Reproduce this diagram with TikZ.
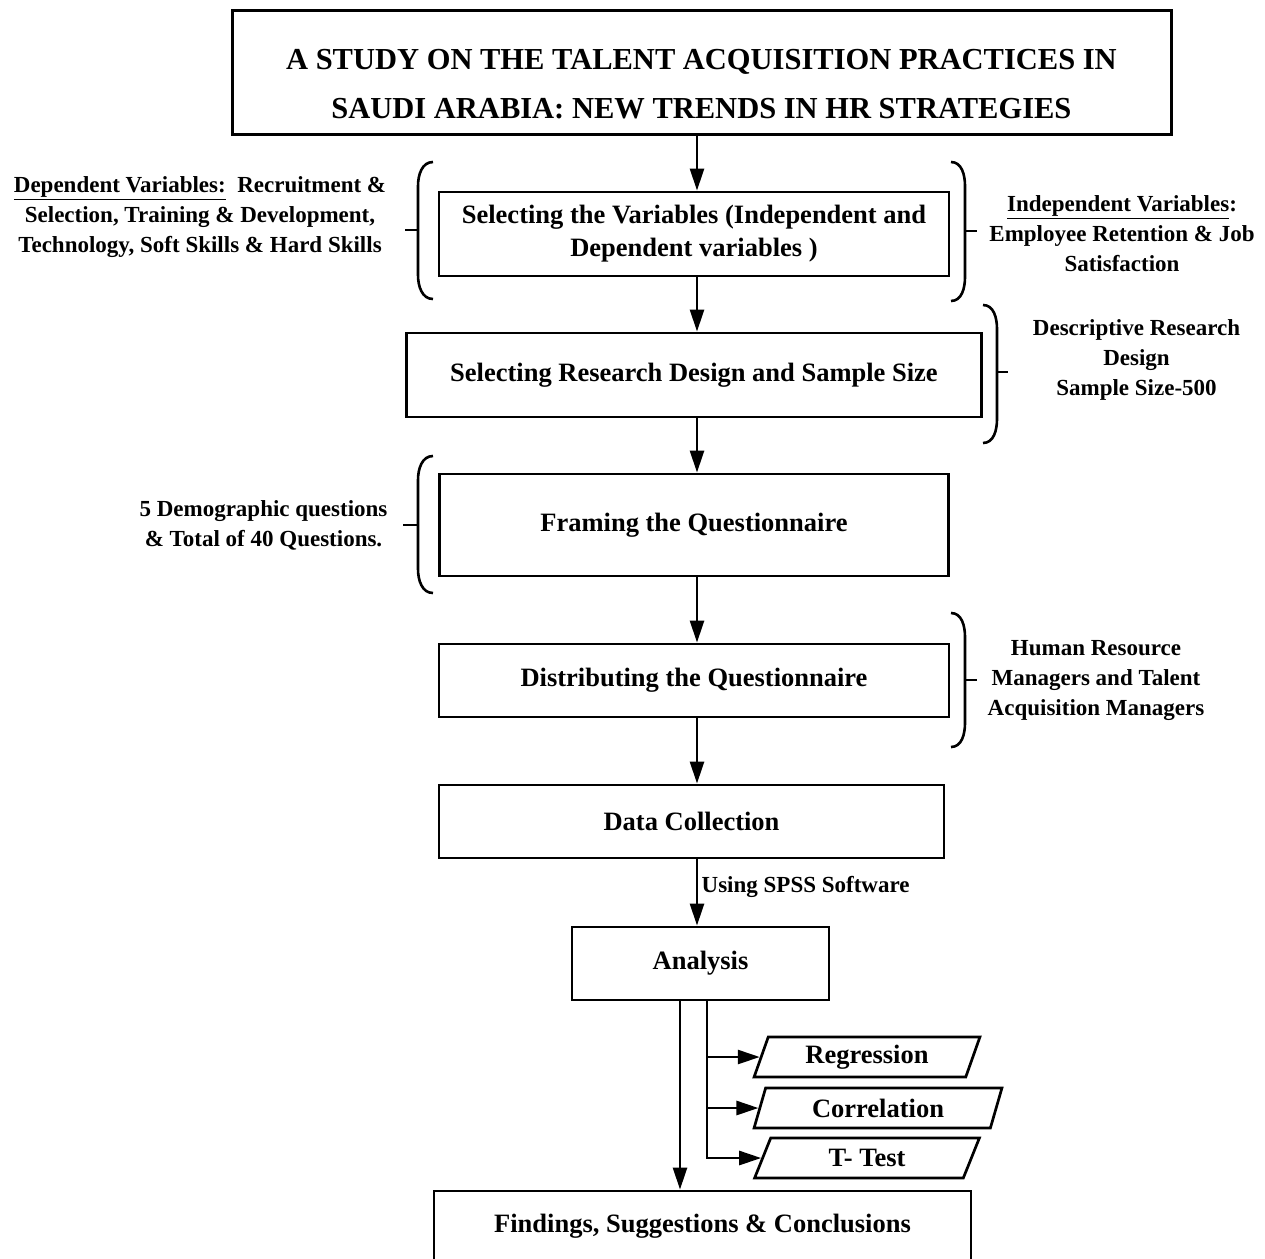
\documentclass[tikz,border=0pt]{standalone}
\usepackage{fontspec}
\setmainfont{Liberation Serif}
\usetikzlibrary{arrows.meta,shapes.geometric,positioning}

\begin{document}
\begin{tikzpicture}[x=1pt,y=1pt,
		box/.style={draw, rectangle, line width=2.9pt, inner sep=0pt, align=center, font=\fontsize{26.5}{33}\selectfont\bfseries},
		side/.style={align=center, font=\fontsize{23}{30}\selectfont\bfseries},
		para/.style={draw, trapezium, trapezium left angle=70, trapezium right angle=110, trapezium stretches=true, line width=2.7pt, minimum height=40pt, inner sep=0pt, font=\fontsize{26.5}{30}\selectfont\bfseries},
		arr/.style={line width=2.7pt, -{Triangle[length=22pt,width=14pt]}},
		brk/.style={line width=2.6pt}]
		\useasboundingbox (0,0) rectangle (1265,-1258);
		\clip (0,0) rectangle (1265,-1258);
		
		\node[box, line width=3pt, minimum width=939pt, minimum height=124pt, font=\fontsize{30.5}{49}\selectfont\bfseries](TITLE) at (701.5,-72){\rule{0pt}{45pt}A STUDY ON THE TALENT ACQUISITION PRACTICES IN\\SAUDI ARABIA: NEW TRENDS IN HR STRATEGIES};
		\node[box, below of=TITLE, node distance=162pt, xshift=-7.5pt, minimum width=510pt, minimum height=84pt](VARS){Selecting the Variables (Independent and\\Dependent variables )};
		\node[box, below of=VARS, node distance=141pt, minimum width=575pt, minimum height=84pt](DESIGN){Selecting Research Design and Sample Size};
		\node[box, below of=DESIGN, node distance=150pt, minimum width=509pt, minimum height=102pt](FRAME){Framing the Questionnaire};
		\node[box, below of=FRAME, node distance=155.5pt, minimum width=510pt, minimum height=73pt](DIST){Distributing the Questionnaire};
		\node[box, below of=DIST, node distance=141pt, xshift=-2.5pt, minimum width=505pt, minimum height=73pt](DATA){Data Collection};
		\node[box, below of=DATA, node distance=142pt, xshift=9pt, minimum width=257pt, minimum height=73pt](ANAL){Analysis};
		\node[box, below of=ANAL, node distance=263pt, xshift=2pt, minimum width=537pt, minimum height=71pt](FIND){Findings, Suggestions \& Conclusions};
		
		\node[side, left of=VARS, node distance=494pt, yshift=17pt](DEP){\underline{Dependent Variables:}~ Recruitment \&\\Selection, Training \& Development,\\Technology, Soft Skills \& Hard Skills};
		\node[side, right of=VARS, node distance=428pt](INDEP){\underline{Independent Variables}:\\Employee Retention \& Job\\Satisfaction};
		\node[side, right of=DESIGN, node distance=442.5pt, yshift=15pt](RDES){Descriptive Research\\Design\\Sample Size-500};
		\node[side, left of=FRAME, node distance=430.5pt](QUES){5 Demographic questions\\\& Total of 40 Questions.};
		\node[side, right of=DIST, node distance=402pt](HRM){Human Resource\\Managers and Talent\\Acquisition Managers};
		
		\node[para, below of=ANAL, node distance=93.5pt, xshift=166.5pt, minimum width=226pt](REG){Regression};
		\node[para, below of=REG, node distance=51pt, xshift=11pt, minimum width=248pt](CORR){Correlation};
		\node[para, below of=CORR, node distance=50pt, xshift=-11pt, minimum width=226pt](TTEST){T- Test};
		
		\coordinate (spine) at (697,0);
		\coordinate (down) at (680,0);
		\coordinate (branch) at (707,0);
		
		\draw[arr] (TITLE.south -| spine) -- (VARS.north -| spine);
		\draw[arr] (VARS.south -| spine) -- (DESIGN.north -| spine);
		\draw[arr] (DESIGN.south -| spine) -- (FRAME.north -| spine);
		\draw[arr] (FRAME.south -| spine) -- (DIST.north -| spine);
		\draw[arr] (DIST.south -| spine) -- (DATA.north -| spine);
		\draw[arr] (DATA.south -| spine) -- node[side, right, pos=0.42](SPSS){Using SPSS Software} (ANAL.north -| spine);
		
		\draw[arr] (ANAL.south -| down) -- (FIND.north -| down);
		\draw[arr] (ANAL.south -| branch) |- (TTEST.west);
		\draw[arr] (REG.west -| branch) -- (REG.west);
		\draw[arr] (CORR.west -| branch) -- (CORR.west);
		
		\draw[brk] (433,-162) to[out=180,in=90] (418,-186) -- (418,-275) to[out=-90,in=180] (433,-299);
		\draw[brk] (418,-230) -- (405,-230);
		\draw[brk] (951,-162) to[out=0,in=90] (965,-186) -- (965,-277) to[out=-90,in=0] (951,-301);
		\draw[brk] (965,-231) -- (977,-231);
		\draw[brk] (983,-305) to[out=0,in=90] (997,-329) -- (997,-419) to[out=-90,in=0] (983,-443);
		\draw[brk] (997,-372) -- (1008,-372);
		\draw[brk] (433,-456) to[out=180,in=90] (418,-480) -- (418,-569) to[out=-90,in=180] (433,-593);
		\draw[brk] (418,-525) -- (403,-525);
		\draw[brk] (951,-613) to[out=0,in=90] (965,-637) -- (965,-723) to[out=-90,in=0] (951,-747);
		\draw[brk] (965,-680) -- (977,-680);
\end{tikzpicture}
\end{document}
